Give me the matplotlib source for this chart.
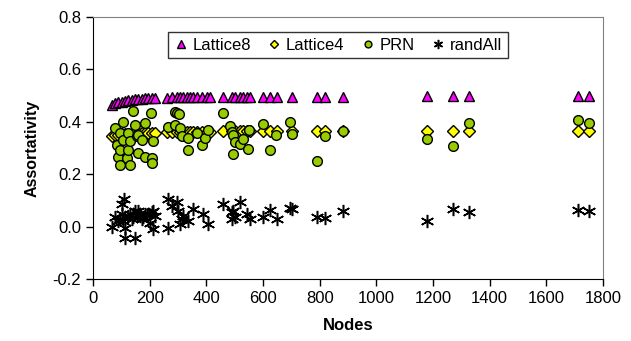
import matplotlib
matplotlib.use("Agg")
import matplotlib.pyplot as plt

plt.rcParams['font.family'] = ['Liberation Sans', 'DejaVu Sans']

# Lattice8 (triangles)
l8_nodes = [66, 78, 89, 101, 113, 125, 137, 148, 160, 172, 184, 195, 207, 219,
            260, 278, 295, 307, 319, 331, 342, 354, 366, 384, 401, 413,
            460, 489, 501, 519, 530, 542, 554, 601, 624, 648, 701, 789, 819, 883,
            1178, 1272, 1328, 1713, 1752]
l8_vals = [0.465, 0.470, 0.474, 0.477, 0.480, 0.482, 0.484, 0.486, 0.487, 0.488, 0.489, 0.490, 0.491, 0.492,
           0.492, 0.493, 0.493, 0.493, 0.494, 0.494, 0.494, 0.494, 0.494, 0.495, 0.495, 0.495,
           0.495, 0.495, 0.495, 0.495, 0.495, 0.495, 0.495, 0.496, 0.496, 0.496, 0.496, 0.496, 0.496, 0.496,
           0.497, 0.497, 0.497, 0.497, 0.497]

# Lattice4 (diamonds)
l4_nodes = l8_nodes
l4_vals = [0.345, 0.348, 0.350, 0.352, 0.353, 0.354, 0.355, 0.356, 0.357, 0.357, 0.358, 0.358, 0.359, 0.359,
           0.360, 0.360, 0.361, 0.361, 0.361, 0.361, 0.362, 0.362, 0.362, 0.362, 0.362, 0.362,
           0.363, 0.363, 0.363, 0.363, 0.363, 0.363, 0.363, 0.364, 0.364, 0.364, 0.364, 0.364, 0.364, 0.364,
           0.365, 0.365, 0.365, 0.365, 0.365]

# PRN (circles)
prn_nodes = [78, 84, 89, 95, 95, 95, 107, 107, 119, 125, 125, 131, 131, 142, 148, 155, 160, 160,
             172, 184, 184, 205, 207, 207, 213,
             266, 290, 295, 304, 289, 307, 313, 336, 336, 366, 384, 395, 407,
             460, 484, 490, 495, 501, 519, 530, 548, 495, 552, 601, 625, 646, 695, 701,
             789, 819, 883, 1178, 1272, 1328, 1713, 1752]
prn_vals = [0.375, 0.312, 0.267, 0.357, 0.292, 0.235, 0.401, 0.331, 0.260, 0.357, 0.292, 0.325, 0.235, 0.442, 0.389, 0.345, 0.350, 0.280,
            0.330, 0.395, 0.267, 0.433, 0.260, 0.241, 0.325,
            0.382, 0.436, 0.433, 0.428, 0.389, 0.376, 0.344, 0.337, 0.292, 0.357, 0.312, 0.337, 0.369,
            0.433, 0.385, 0.362, 0.349, 0.323, 0.317, 0.336, 0.298, 0.278, 0.368, 0.391, 0.294, 0.349, 0.401, 0.355,
            0.250, 0.345, 0.365, 0.336, 0.309, 0.396, 0.405, 0.396]

# randAll (stars)
ra_nodes = [66, 78, 89, 95, 101, 101, 107, 109, 113, 113, 125, 131, 137, 142, 148, 148, 154, 160, 166,
            172, 178, 184, 190, 196, 201, 207, 213, 213, 219,
            266, 266, 278, 295, 301, 307, 313, 319, 336, 354, 389, 407,
            460, 489, 489, 495, 501, 519, 542, 554, 601, 624, 648, 695, 701, 789, 819, 883,
            1178, 1272, 1328, 1713, 1752]
ra_vals = [0.000, 0.035, 0.022, 0.030, 0.086, 0.048, 0.020, 0.105, -0.004, -0.042, 0.040, 0.050, 0.028, 0.035, 0.060, -0.042, 0.045, 0.060, 0.040,
           0.030, 0.035, 0.050, 0.045, 0.050, 0.015, 0.055, 0.060, -0.010, 0.040,
           0.105, -0.004, 0.080, 0.092, 0.060, 0.009, 0.030, 0.041, 0.020, 0.067, 0.048, 0.009,
           0.086, 0.054, 0.030, 0.060, 0.035, 0.092, 0.048, 0.028, 0.035, 0.064, 0.028, 0.070, 0.068, 0.035, 0.031, 0.058,
           0.022, 0.067, 0.054, 0.065, 0.060]

x_ticks = [0, 200, 400, 600, 800, 1000, 1200, 1400, 1600, 1800]
y_ticks = [-0.2, 0.0, 0.2, 0.4, 0.6, 0.8]

fig = plt.figure(figsize=(6.31, 3.41), dpi=100)
ax = fig.add_axes([93/631, 1-279/341, (603-93)/631, (279-17)/341])

ax.plot(l8_nodes, l8_vals, linestyle='none', marker='^', ms=7.5, mfc='#FF00FF', mec='black', mew=1.0, label='Lattice8', zorder=3)
ax.plot(l4_nodes, l4_vals, linestyle='none', marker='D', ms=6, mfc='#FFFF00', mec='black', mew=1.0, label='Lattice4', zorder=3)
ax.plot(prn_nodes, prn_vals, linestyle='none', marker='o', ms=7, mfc='#99CC00', mec='black', mew=1.0, label='PRN', zorder=3)
ax.plot(ra_nodes, ra_vals, linestyle='none', marker=(6, 2, 0), ms=9.5, mec='black', mew=1.1, label='randAll', zorder=3)

ax.set_xlim(0, 1800)
ax.set_ylim(-0.2, 0.8)
ax.set_xticks(x_ticks)
ax.set_yticks(y_ticks)
ax.set_yticklabels([f"{v:.1f}" for v in y_ticks])
ax.tick_params(direction='out', length=5, width=1, labelsize=12, color='black')
for s in ['left', 'bottom']:
    ax.spines[s].set_color('black')
for s in ['top', 'right']:
    ax.spines[s].set_color('#808080')

ax.set_xlabel('Nodes', fontsize=12, fontweight='bold', labelpad=9)
ax.set_ylabel('Assortativity', fontsize=11.5, fontweight='bold', labelpad=9)

leg = ax.legend(loc='center', bbox_to_anchor=((163+513)/2/631, 1-45/341), bbox_transform=fig.transFigure,
                ncol=4, fontsize=12, frameon=True, fancybox=False, handlelength=0.8, handletextpad=0.3,
                columnspacing=1.0, markerscale=0.7, borderpad=0.35)
leg.get_frame().set_edgecolor('black')
leg.get_frame().set_linewidth(1.0)

fig.savefig('out.png', dpi=100)
